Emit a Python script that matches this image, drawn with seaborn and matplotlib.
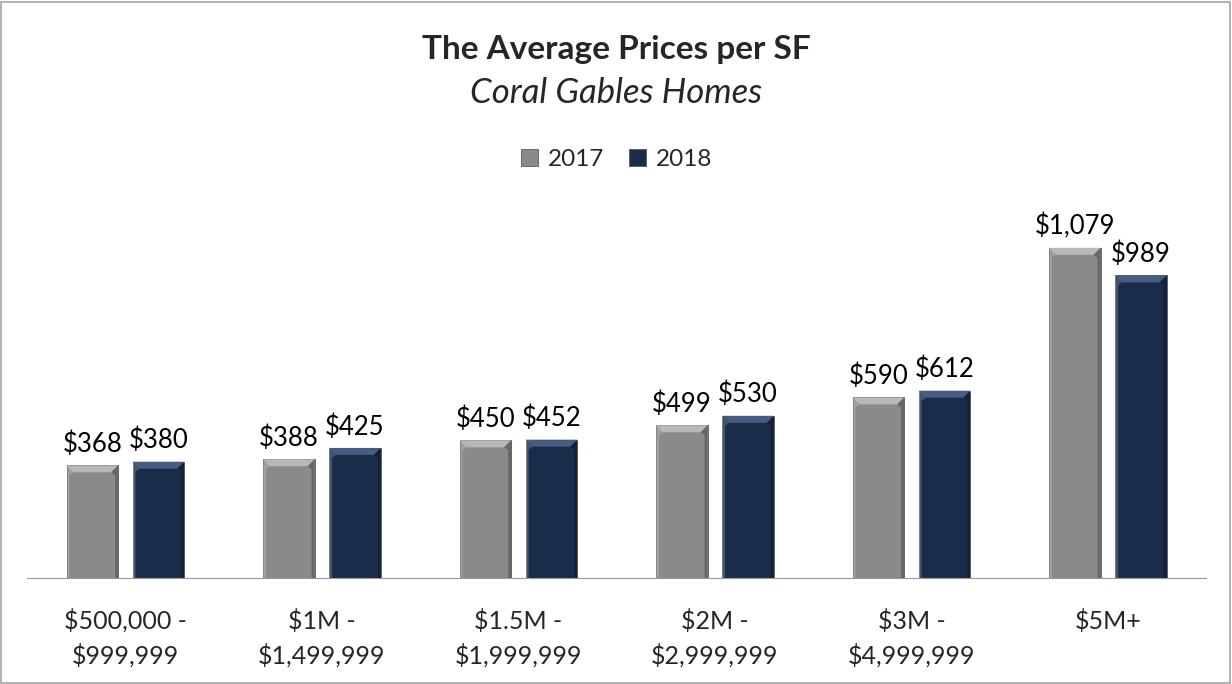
import pandas as pd
import seaborn as sns
import matplotlib.pyplot as plt
from matplotlib.patches import Polygon, Rectangle

sns.set_style("white")
plt.rcParams['font.family'] = ['Lato', 'DejaVu Sans']

# data
price_ranges = ["$500,000 -\n$999,999", "$1M -\n$1,499,999", "$1.5M -\n$1,999,999",
                "$2M -\n$2,999,999", "$3M -\n$4,999,999", "$5M+"]
prices_2017 = [368, 388, 450, 499, 590, 1079]
prices_2018 = [380, 425, 452, 530, 612, 989]
years = ["2017", "2018"]
colors = {"2017": "#8a8a8a", "2018": "#1b2c4a"}
bevel = {"2017": "#b8b8b8", "2018": "#465c82"}

df = pd.DataFrame({
    "range": price_ranges * 2,
    "year": [years[0]] * len(price_ranges) + [years[1]] * len(price_ranges),
    "price": prices_2017 + prices_2018,
})

fig = plt.figure(figsize=(12.32, 6.84), dpi=100)
ax = fig.add_axes([0.022, 0.155, 0.957, 0.582])
YMAX = 1301

sns.barplot(data=df, x="range", y="price", hue="year", palette=colors,
            width=0.673, gap=0.22, saturation=1, errorbar=None, ax=ax,
            edgecolor="#5a5a5a", linewidth=0.6)

ax.set_ylim(0, YMAX)
ax.set_xlim(-0.5, len(price_ranges) - 0.5)

# pixel size of one data unit, used to keep the bevel square
fig.canvas.draw()
bb = ax.get_window_extent()
px_x = bb.width / len(price_ranges)
px_y = bb.height / YMAX

# bevel look on each bar
for container, yr in zip(ax.containers, years):
    for p in container.patches:
        x0, w, h = p.get_x(), p.get_width(), p.get_height()
        d = 7 / px_x
        dy = 7 / px_y
        s = 3 / px_x
        sy = 3 / px_y
        top = Polygon([(x0, h), (x0 + w, h), (x0 + w - d, h - dy), (x0 + d, h - dy)],
                      closed=True, facecolor=bevel[yr], edgecolor="none", zorder=3)
        ax.add_patch(top)
        left = Polygon([(x0, h), (x0 + d, h - dy), (x0 + s, h - dy - sy), (x0 + s, 0), (x0, 0)],
                       closed=True, facecolor="white", edgecolor="none", alpha=0.18, zorder=3)
        ax.add_patch(left)
        right = Polygon([(x0 + w, h), (x0 + w - d, h - dy), (x0 + w - s, h - dy - sy),
                         (x0 + w - s, 0), (x0 + w, 0)],
                        closed=True, facecolor="black", edgecolor="none", alpha=0.25, zorder=3)
        ax.add_patch(right)

    labels = [f"${v:,.0f}" for v in container.datavalues]
    ax.bar_label(container, labels=labels, padding=6, fontsize=18.5, color="black")

sns.despine(ax=ax, left=True, top=True, right=True)
ax.spines['bottom'].set_color("#9a9a9a")
ax.set_yticks([])
ax.set_xlabel("")
ax.set_ylabel("")
ax.tick_params(axis='x', length=0, pad=22, labelsize=18)
for t in ax.get_xticklabels():
    t.set_linespacing(1.5)

ax.legend(loc="center", bbox_to_anchor=(0.5, 1.05), ncol=2, frameon=False,
          fontsize=17.5, handlelength=0.7, handleheight=0.7, handletextpad=0.4,
          columnspacing=1.0)

fig.text(0.5, 0.928, "The Average Prices per SF", ha="center", va="center",
         fontsize=24, fontweight="bold")
fig.text(0.5, 0.864, "Coral Gables Homes", ha="center", va="center",
         fontsize=25, style="italic")

fig.patches.append(Rectangle((0.001, 0.002), 0.997, 0.995, transform=fig.transFigure,
                             fill=False, edgecolor="#a6a6a6", linewidth=1.2))

fig.savefig("out.png", dpi=100)
